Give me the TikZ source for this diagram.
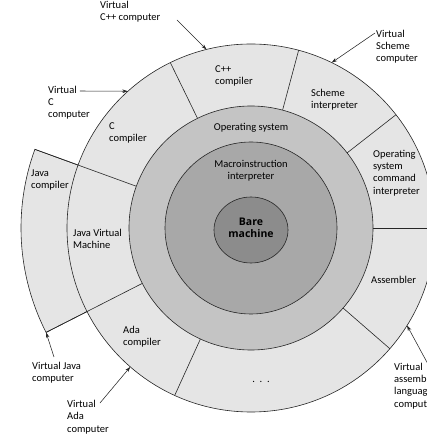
\documentclass[tikz,border=0pt]{standalone}
\usepackage{fontspec}
\setmainfont{Carlito}
\newfontfamily\barefont{Open Sans}
\usetikzlibrary{arrows.meta}

\definecolor{ringouter}{gray}{0.90}
\definecolor{ringos}{gray}{0.77}
\definecolor{ringmacro}{gray}{0.66}
\definecolor{ringbare}{gray}{0.55}
\definecolor{inkline}{gray}{0.15}

\begin{document}
\begin{tikzpicture}[x=1pt,y=1pt,
  ring/.style={draw=inkline, line width=0.6pt},
  divider/.style={draw=inkline, line width=0.6pt},
  txt/.style={font=\fontsize{10.5}{12.2}\selectfont, inner sep=0pt},
  lbl/.style={txt, align=left, anchor=west},
  clbl/.style={txt, align=center},
  pointer/.style={draw=inkline, line width=0.55pt, -{Stealth[length=5.5pt,width=3.6pt]}}]
\useasboundingbox (-251,-210) rectangle (176,228);
\clip (-251,-210) rectangle (176,228);

% Java extension beyond the outer ring
\path[fill=ringouter, divider] (160:122) -- (160:230) arc[start angle=160, end angle=207, radius=230] -- (207:122);
% concentric layers
\path[fill=ringouter, ring] (0,0) circle[radius=184];
\path[divider] (160:122) -- (160:230);
\path[divider] (207:122) -- (207:230);
\foreach \a in {116,75,38,0,-41,245.5}
  \path[divider] (\a:122) -- (\a:184);
\path[fill=ringos, ring] (0,0) circle[radius=122];
\path[fill=ringmacro, ring] (0,0) circle[radius=86];
\path[fill=ringbare, ring] (0,-2) ellipse[x radius=37, y radius=33];

% layer texts
\node[clbl] (bare) at (0,0) {\barefont\bfseries Bare\\\barefont\bfseries machine};
\node[clbl] (macro) at (0,57) {Macroinstruction\\interpreter};
\node[clbl] (os) at (0,100) {Operating system};
\node[lbl] (cppc) at (-36,152) {C++\\compiler};
\node[lbl] (schemei) at (60,128) {Scheme\\interpreter};
\node[lbl] (cc) at (-142,95) {C\\compiler};
\node[lbl] (oscmd) at (122,55) {Operating\\system\\command\\interpreter};
\node[lbl] (javac) at (-220,48) {Java\\compiler};
\node[lbl] (jvm) at (-178,-11) {Java Virtual\\Machine};
\node[lbl] (asm) at (120,-52) {Assembler};
\node[lbl] (adac) at (-128,-109) {Ada\\compiler};
\node[clbl] (dots) at (10,-154) {.\hspace{0.45em}.\hspace{0.45em}.};

% virtual machine labels
\node[lbl] (vcpp) at (-151,216) {Virtual\\C++ computer};
\node[lbl] (vc) at (-203,125) {Virtual\\C\\computer};
\node[lbl] (vscheme) at (125,181) {Virtual\\Scheme\\computer};
\node[lbl] (vjava) at (-219,-145) {Virtual Java\\computer};
\node[lbl] (vada) at (-184,-189) {Virtual\\Ada\\computer};
\node[lbl] (vasm) at (143,-158) {Virtual\\assembly\\language\\computer};

% pointer ends
\coordinate (pcpp) at (-74,208);   \coordinate (tcpp) at (104:184);
\coordinate (pc) at (-171,137);    \coordinate (tc) at (132:184);
\coordinate (pscheme) at (124,195);\coordinate (tscheme) at (64:184);
\coordinate (pjava) at (-197,-129);\coordinate (tjava) at (207:230);
\coordinate (pada) at (-151,-175); \coordinate (tada) at (229:184);
\coordinate (pasm) at (178,-138);  \coordinate (tasm) at (-32:184);

\draw[pointer] (pcpp) -- (tcpp);
\draw[pointer] (pc) -- (tc);
\draw[pointer] (pscheme) -- (tscheme);
\draw[pointer] (pjava) -- (tjava);
\draw[pointer] (pada) -- (tada);
\draw[pointer] (pasm) -- (tasm);
\end{tikzpicture}
\end{document}
